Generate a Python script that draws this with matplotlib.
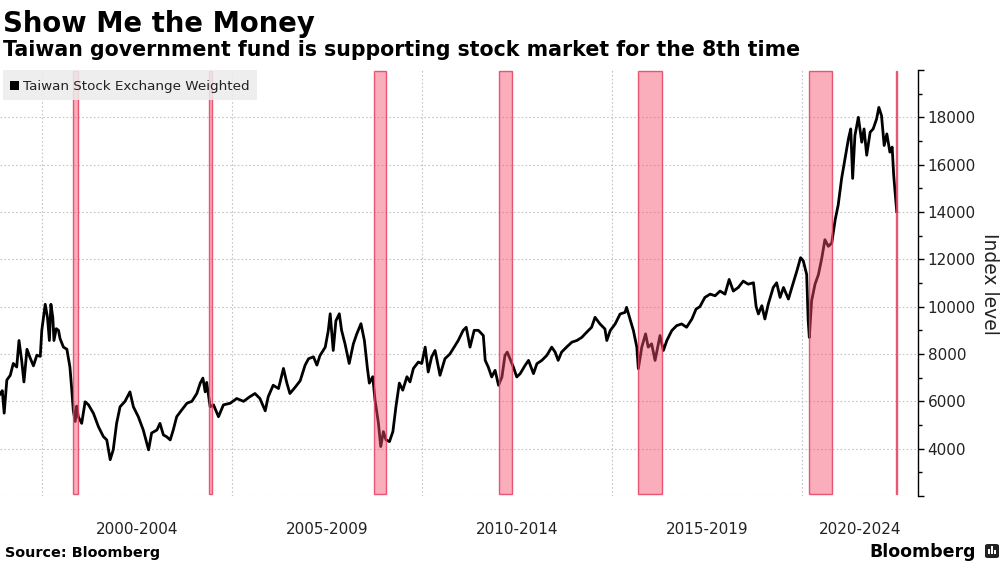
import matplotlib
matplotlib.use("Agg")
import matplotlib.pyplot as plt
from matplotlib.patches import Rectangle, FancyBboxPatch

# ---------------- data ----------------
dates = [1998.90, 1998.96, 1999.01, 1999.08, 1999.17, 1999.25, 1999.34, 1999.40, 1999.47, 1999.53,
         1999.61, 1999.69, 1999.78, 1999.87, 1999.96, 2000.00, 2000.09, 2000.15, 2000.20, 2000.24,
         2000.29, 2000.32, 2000.38, 2000.44, 2000.48, 2000.57, 2000.66, 2000.74, 2000.79, 2000.83,
         2000.88, 2000.92, 2000.96, 2001.05, 2001.14, 2001.23, 2001.36, 2001.49, 2001.62, 2001.71,
         2001.80, 2001.88, 2001.97, 2002.06, 2002.19, 2002.32, 2002.41, 2002.54, 2002.67, 2002.81,
         2002.89, 2003.03, 2003.11, 2003.20, 2003.29, 2003.38, 2003.46, 2003.55, 2003.68, 2003.82,
         2003.95, 2004.08, 2004.17, 2004.24, 2004.30, 2004.34, 2004.43, 2004.52, 2004.65, 2004.78,
         2004.96, 2005.13, 2005.31, 2005.48, 2005.61, 2005.74, 2005.88, 2005.96, 2006.09, 2006.23,
         2006.36, 2006.45, 2006.53, 2006.67, 2006.80, 2006.93, 2007.02, 2007.15, 2007.24, 2007.32,
         2007.46, 2007.54, 2007.59, 2007.67, 2007.74, 2007.83, 2007.89, 2007.98, 2008.09, 2008.20,
         2008.29, 2008.40, 2008.49, 2008.57, 2008.62, 2008.71, 2008.77, 2008.86, 2008.92, 2008.99,
         2009.06, 2009.15, 2009.24, 2009.32, 2009.41, 2009.50, 2009.61, 2009.69, 2009.78, 2009.91,
         2010.00, 2010.09, 2010.17, 2010.26, 2010.35, 2010.48, 2010.61, 2010.74, 2010.83, 2010.96,
         2011.09, 2011.17, 2011.27, 2011.38, 2011.49, 2011.62, 2011.67, 2011.75, 2011.84, 2011.93,
         2012.02, 2012.11, 2012.19, 2012.25, 2012.32, 2012.41, 2012.50, 2012.59, 2012.72, 2012.81,
         2012.94, 2013.03, 2013.16, 2013.29, 2013.42, 2013.51, 2013.59, 2013.68, 2013.81, 2013.95,
         2014.08, 2014.21, 2014.34, 2014.47, 2014.56, 2014.69, 2014.82, 2014.87, 2014.96, 2015.09,
         2015.22, 2015.35, 2015.39, 2015.48, 2015.57, 2015.66, 2015.70, 2015.79, 2015.89, 2015.96,
         2016.05, 2016.14, 2016.27, 2016.36, 2016.45, 2016.58, 2016.71, 2016.84, 2016.97, 2017.11,
         2017.22, 2017.32, 2017.45, 2017.59, 2017.72, 2017.85, 2017.98, 2018.09, 2018.20, 2018.33,
         2018.46, 2018.59, 2018.73, 2018.80, 2018.86, 2018.95, 2019.03, 2019.12, 2019.25, 2019.34,
         2019.43, 2019.52, 2019.65, 2019.74, 2019.87, 2019.97, 2020.04, 2020.13, 2020.17, 2020.20,
         2020.26, 2020.35, 2020.44, 2020.53, 2020.61, 2020.70, 2020.79, 2020.88, 2020.96, 2021.05,
         2021.14, 2021.23, 2021.29, 2021.34, 2021.40, 2021.49, 2021.58, 2021.64, 2021.71, 2021.80,
         2021.88, 2021.97, 2022.03, 2022.10, 2022.17, 2022.24, 2022.32, 2022.38, 2022.42, 2022.45,
         2022.50]
index_level = [6300, 6450, 5500, 6900, 7100, 7600, 7450, 8570, 7730, 6820,
               8200, 7850, 7500, 7950, 7900, 9000, 10100, 9540, 8570, 10100,
               9540, 8570, 9070, 9000, 8650, 8290, 8200, 7450, 6470, 5600,
               5150, 5800, 5350, 5070, 5980, 5850, 5490, 4930, 4510, 4370,
               3535, 3950, 5080, 5770, 6000, 6400, 5770, 5350, 4790, 3950,
               4660, 4790, 5070, 4580, 4500, 4370, 4790, 5350, 5630, 5920,
               6000, 6330, 6770, 6980, 6400, 6800, 5770, 5850, 5350, 5850,
               5920, 6120, 6000, 6200, 6330, 6120, 5600, 6200, 6680, 6540,
               7390, 6770, 6330, 6600, 6870, 7530, 7800, 7880, 7530, 7930,
               8290, 8990, 9700, 8150, 9400, 9700, 9000, 8430, 7600, 8430,
               8850, 9280, 8570, 7390, 6770, 7040, 6050, 5070, 4090, 4720,
               4370, 4300, 4720, 5770, 6770, 6470, 7040, 6820, 7390, 7660,
               7600, 8290, 7240, 7880, 8150, 7100, 7800, 8000, 8230, 8570,
               9000, 9130, 8290, 9000, 9000, 8780, 7730, 7450, 7030, 7310,
               6680, 7030, 7940, 8080, 7800, 7450, 7030, 7170, 7520, 7730,
               7170, 7590, 7730, 7940, 8290, 8080, 7730, 8080, 8290, 8500,
               8570, 8700, 8920, 9130, 9550, 9270, 9060, 8570, 8990, 9270,
               9690, 9760, 9970, 9480, 8990, 8290, 7380, 8290, 8850, 8290,
               8430, 7730, 8780, 8150, 8570, 8990, 9200, 9270, 9130, 9480,
               9900, 10000, 10390, 10530, 10460, 10660, 10530, 11150, 10660, 10810,
               11080, 10950, 11010, 10000, 9690, 10040, 9480, 10110, 10810, 11010,
               10390, 10810, 10320, 10810, 11500, 12070, 11940, 11360, 9410, 8700,
               10250, 10950, 11360, 12070, 12830, 12550, 12690, 13670, 14300, 15420,
               16260, 17100, 17510, 15420, 17230, 18000, 16950, 17510, 16400, 17370,
               17510, 17930, 18420, 18070, 16810, 17300, 16530, 16740, 15560, 15000,
               14020]

support_start = [2000.81, 2004.41, 2008.75, 2012.03, 2015.70, 2020.20, 2022.47]
support_end = [2000.95, 2004.48, 2009.05, 2012.37, 2016.32, 2020.79, 2022.52]

period_labels = ["2000-2004", "2005-2009", "2010-2014", "2015-2019", "2020-2024"]
period_start = [2000, 2005, 2010, 2015, 2020]
period_end = [2005, 2010, 2015, 2020, 2025]

y_ticks = [2000, 4000, 6000, 8000, 10000, 12000, 14000, 16000, 18000, 20000]
y_tick_labels = ["", "4000", "6000", "8000", "10000", "12000", "14000", "16000", "18000", ""]

x_min, x_max = 1998.90, 2023.06
y_min, y_max = 2000, 20000

# ---------------- figure ----------------
W, H = 1003, 564
fig = plt.figure(figsize=(W / 100, H / 100), dpi=100)
ax = fig.add_axes([0 / W, 1 - 496 / H, 918 / W, (496 - 70) / H])

ax.plot(dates, index_level, color="black", lw=2.0, zorder=2)

for s, e in zip(support_start, support_end):
    ax.axvspan(s, e, ymin=0.005, ymax=0.997, facecolor=(0.96, 0.30, 0.42, 0.46),
               edgecolor=(0.90, 0.25, 0.38, 0.85), lw=1.0, zorder=3)

ax.set_xlim(x_min, x_max)
ax.set_ylim(y_min, y_max)

# x axis: gridlines at period boundaries, labels centred on the visible part of each period
ax.set_xticks(period_start)
ax.tick_params(axis="x", which="major", length=0, labelbottom=False)
centers = [(max(s, x_min) + min(e, x_max)) / 2 for s, e in zip(period_start, period_end)]
ax.set_xticks(centers, minor=True)
ax.set_xticklabels(period_labels, minor=True)
ax.tick_params(axis="x", which="minor", length=0, pad=19, labelsize=11, labelcolor="#222222")

ax.yaxis.tick_right()
ax.set_yticks(y_ticks)
ax.set_yticklabels(y_tick_labels)
ax.set_yticks(range(3000, 20000, 2000), minor=True)
ax.tick_params(axis="y", which="major", direction="out", length=4, width=1, pad=3,
               labelsize=11, colors="black")
ax.tick_params(axis="y", which="minor", direction="out", length=3, width=1)
for lbl in ax.get_yticklabels():
    lbl.set_color("#222222")

ax.grid(True, which="major", axis="both", color="#c4c4c4", linestyle=(0, (1.5, 2)), lw=0.8, zorder=0)
ax.yaxis.get_gridlines()[-1].set_visible(False)

for side in ["top", "left", "bottom"]:
    ax.spines[side].set_visible(False)
ax.spines["right"].set_color("black")
ax.spines["right"].set_linewidth(1)

fig.text(990 / W, 1 - 284 / H, "Index level", rotation=270, ha="center", va="center",
         fontsize=13.5, color="#222222")

# legend box
fig.add_artist(Rectangle((3 / W, 1 - 100 / H), 254 / W, 30 / H, transform=fig.transFigure,
                         facecolor="#ececec", edgecolor="none", alpha=0.85, zorder=5))
fig.add_artist(Rectangle((10 / W, 1 - 90 / H), 9 / W, 9 / H, transform=fig.transFigure,
                         facecolor="black", edgecolor="none", zorder=6))
fig.text(23 / W, 1 - 86 / H, "Taiwan Stock Exchange Weighted", ha="left", va="center",
         fontsize=9.7, color="#222222", zorder=6)

# titles
fig.text(3 / W, 1 - 31.5 / H, "Show Me the Money", ha="left", va="baseline",
         fontsize=19.8, fontweight="bold", color="black")
fig.text(3 / W, 1 - 56.5 / H, "Taiwan government fund is supporting stock market for the 8th time",
         ha="left", va="baseline", fontsize=14.8, fontweight="bold", color="black")

# footer
fig.text(5 / W, 1 - 557 / H, "Source: Bloomberg", ha="left", va="baseline",
         fontsize=10.4, fontweight="bold", color="black")
fig.text(976 / W, 1 - 557 / H, "Bloomberg", ha="right", va="baseline",
         fontsize=12.5, fontweight="bold", color="black")
fig.add_artist(FancyBboxPatch((985 / W, 1 - 558 / H), 14 / W, 14 / H, transform=fig.transFigure,
                              boxstyle="round,pad=0,rounding_size=0.003",
                              facecolor="#222222", edgecolor="none"))
for bx, bh in zip([988.5, 991.5, 994.5], [5, 8, 4]):
    fig.add_artist(Rectangle((bx / W, 1 - 554 / H), 1.6 / W, bh / H, transform=fig.transFigure,
                             facecolor="white", edgecolor="none", zorder=7))

fig.savefig("out.png", dpi=100)
